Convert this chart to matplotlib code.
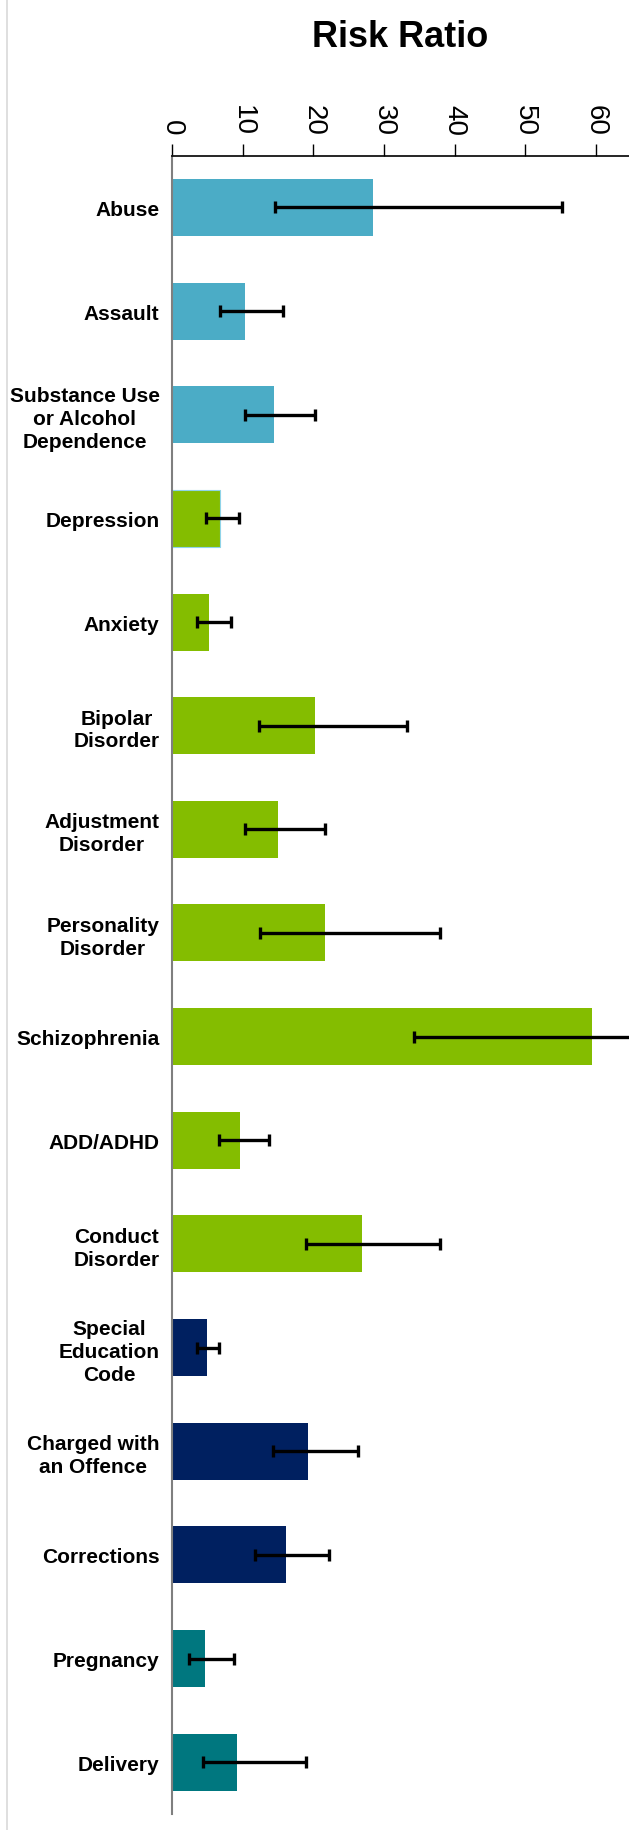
import matplotlib.pyplot as plt
import numpy as np
from matplotlib.lines import Line2D

plt.rcParams['font.family'] = ['Liberation Sans', 'DejaVu Sans']

# outcome categories, top to bottom
categories = [
    "Abuse", "Assault", "Substance Use\nor Alcohol\nDependence",
    "Depression", "Anxiety", "Bipolar\nDisorder", "Adjustment\nDisorder",
    "Personality\nDisorder", "Schizophrenia", "ADD/ADHD", "Conduct\nDisorder",
    "Special\nEducation\nCode", "Charged with\nan Offence", "Corrections",
    "Pregnancy", "Delivery",
]
risk_ratio = [28.5, 10.4, 14.5, 6.8, 5.3, 20.2, 15.0, 21.6, 59.5, 9.6, 26.9,
              4.9, 19.3, 16.2, 4.6, 9.2]
ci_low = [14.6, 6.8, 10.4, 4.8, 3.6, 12.3, 10.3, 12.4, 34.2, 6.7, 19.0,
          3.6, 14.3, 11.8, 2.4, 4.4]
ci_high = [55.2, 15.7, 20.2, 9.5, 8.4, 33.2, 21.7, 38.0, 90.0, 13.8, 38.0,
           6.7, 26.3, 22.2, 8.8, 19.0]
groups = ["social"] * 3 + ["mental"] * 8 + ["justice"] * 3 + ["birth"] * 2

group_colors = {
    "social": "#4BACC6",
    "mental": "#84BD00",
    "justice": "#002060",
    "birth": "#00777F",
}

fig = plt.figure(figsize=(6.29, 18.31), dpi=100)
ax = fig.add_axes([0.2735, 0.0087, 0.7265, 0.9058])

y = np.arange(len(categories))
colors = [group_colors[g] for g in groups]
bars = ax.barh(y, risk_ratio, height=0.55, color=colors, edgecolor="none", zorder=1)
# the Depression bar keeps a thin blue outline
bars[3].set_edgecolor("#8FD3E8")
bars[3].set_linewidth(0.8)

err = np.array([np.array(risk_ratio) - np.array(ci_low),
                np.array(ci_high) - np.array(risk_ratio)])
ax.errorbar(risk_ratio, y, xerr=err, fmt="none", ecolor="black",
            elinewidth=2.4, capsize=4.2, capthick=2.4, zorder=3)

ax.set_xlim(0, 64.7)
ax.set_ylim(len(categories) - 0.5, -0.5)
ax.set_yticks(y)
ax.set_yticklabels(categories, fontsize=15, fontweight="bold",
                   linespacing=1.25, ha="right", multialignment="center")
ax.tick_params(axis="y", length=0, pad=9)

ax.xaxis.tick_top()
ax.set_xticks(range(0, 61, 10))
ax.tick_params(axis="x", direction="out", length=9, width=1, pad=6,
               labelsize=20, labelrotation=-90, colors="black")
for lbl in ax.get_xticklabels():
    lbl.set_va("bottom")

for side in ("right", "bottom"):
    ax.spines[side].set_visible(False)
ax.spines["left"].set_color("#7f7f7f")
ax.spines["left"].set_linewidth(1.5)
ax.spines["top"].set_color("black")
ax.spines["top"].set_linewidth(1.2)

fig.text(0.636, 0.9795, "Risk Ratio", ha="center", va="center",
         fontsize=26, fontweight="bold")

# thin frame line down the left edge
fig.add_artist(Line2D([0.0115, 0.0115], [0, 1], transform=fig.transFigure,
                      color="#d9d9d9", linewidth=1.2))

fig.savefig("out.png", dpi=100)
